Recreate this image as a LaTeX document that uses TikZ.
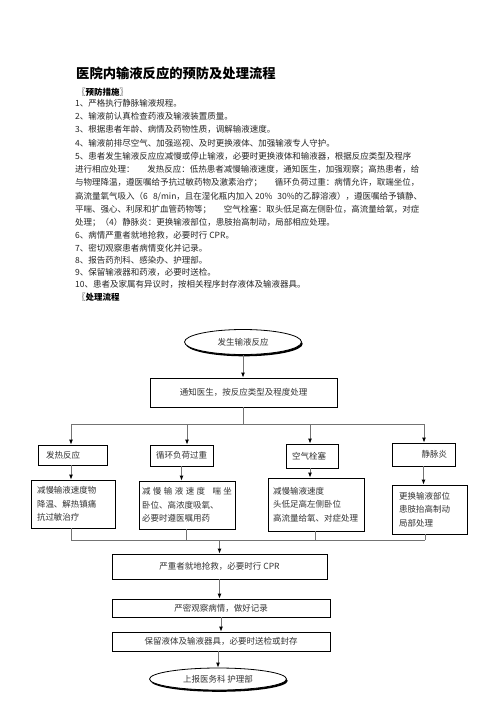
\documentclass[tikz,border=0pt]{standalone}
\usepackage{fontspec}
\setmainfont{Noto Sans CJK SC}
\usetikzlibrary{shapes.geometric,arrows.meta,shadows}
\newcommand{\justline}[1]{{\XeTeXlinebreaklocale "zh"\XeTeXlinebreakskip=0pt plus 2pt minus 0.6pt\makebox[347pt][s]{#1}}}
\tikzset{
 body/.style={anchor=base west, inner sep=0, font=\fontsize{8.5}{10}\selectfont, text=black!85},
 head/.style={anchor=base west, inner sep=0, font=\fontsize{8.5}{10}\selectfont\bfseries, text=black},
 box/.style={draw=black, line width=0.8pt, inner ysep=0, font=\fontsize{8.5}{13.5}\selectfont, text=black!80},
 ell/.style={ellipse, draw=black, fill=white, line width=0.8pt, inner sep=0,
   drop shadow={shadow xshift=1.2pt, shadow yshift=-1.8pt, fill=black, opacity=1},
   font=\fontsize{8.5}{10}\selectfont, text=black!80},
 conn/.style={draw=black!55, line width=0.9pt},
 arr/.style={conn, -{Latex[length=5pt,width=4pt,color=black]}},
}
\begin{document}
\begin{tikzpicture}[x=1pt,y=-1pt]
\useasboundingbox[fill=white] (0,0) rectangle (496,702);
% title and text
\node[anchor=base west, inner sep=0, font=\fontsize{13.3}{15}\selectfont\bfseries] (title) at (76,78) {医院内输液反应的预防及处理流程};
\node[head] (h1) at (77,95) {〖预防措施〗};
\node[body] (t1) at (75,106.5) {1、严格执行静脉输液规程。};
\node[body] (t2) at (75,119.7) {2、输液前认真检查药液及输液装置质量。};
\node[body] (t3) at (75,132.9) {3、根据患者年龄、病情及药物性质，调解输液速度。};
\node[body] (t4) at (75,146.2) {4、输液前排尽空气、加强巡视、及时更换液体、加强输液专人守护。};
\node[body] (t5a) at (75,159.4) {\justline{5、患者发生输液反应应减慢或停止输液，必要时更换液体和输液器，根据反应类型及程序}};
\node[body] (t5b) at (75,172.6) {\justline{进行相应处理：\hspace{1.5em}发热反应：低热患者减慢输液速度，通知医生，加强观察；高热患者，给}};
\node[body] (t5c) at (75,185.8) {\justline{与物理降温，遵医嘱给予抗过敏药物及激素治疗；\hspace{1.5em}循环负荷过重：病情允许，取端坐位，}};
\node[body] (t5d) at (75,199.1) {\justline{高流量氧气吸入（6\hspace{0.6em}8/min，且在湿化瓶内加入 20\%\hspace{0.6em}30\%的乙醇溶液），遵医嘱给予镇静、}};
\node[body] (t5e) at (75,212.3) {\justline{平喘、强心、利尿和扩血管药物等；\hspace{1.5em}空气栓塞：取头低足高左侧卧位，高流量给氧，对症}};
\node[body] (t5f) at (75,225.5) {处理；（4）静脉炎：更换输液部位，患肢抬高制动，局部相应处理。};
\node[body] (t6) at (75,238.5) {6、病情严重者就地抢救，必要时行 CPR。};
\node[body] (t7) at (75,251) {7、密切观察患者病情变化并记录。};
\node[body] (t8) at (75,263) {8、报告药剂科、感染办、护理部。};
\node[body] (t9) at (75,275) {9、保留输液器和药液，必要时送检。};
\node[body] (t10) at (75,287) {10、患者及家属有异议时，按相关程序封存液体及输液器具。};
\node[head] (h2) at (77,300.5) {〖处理流程};
% flowchart
\node[ell, minimum width=117, minimum height=25] (e1) at (243,342) {发生输液反应};
\node[box, minimum width=187, minimum height=29] (n) at (243.5,392.5) {通知医生，按反应类型及程度处理};
\node[box, inner xsep=8, text width=53, minimum height=20, align=left] (b1) at (72.5,455) {发热反应};
\node[box, inner xsep=6, text width=51, minimum height=21, align=left] (b2) at (181.5,455.5) {循环负荷过重};
\node[box, inner xsep=6, text width=40, minimum height=24, align=left] (b3) at (312,456) {空气栓塞};
\node[box, inner xsep=8, text width=47, minimum height=23, align=right] (b4) at (423.5,454.5) {静脉炎};
\node[box, inner xsep=6, text width=72, minimum height=48, align=left] (d1) at (73,504) {减慢输液速度物\\降温、解热镇痛\\抗过敏治疗};
\node[box, inner xsep=3, text width=90, minimum height=48, align=left] (d2) at (187,505) {\makebox[90pt][s]{减\hfil 慢\hfil 输\hfil 液\hfil 速\hfil 度\hfil\hfil\hfil 喘\hfil 坐}\\卧位、高浓度吸氧、\\必要时遵医嘱用药};
\node[box, inner xsep=5, text width=86, minimum height=53, align=left] (d3) at (316,504.5) {减慢输液速度\\头低足高左侧卧位\\高流量给氧、对症处理};
\node[box, inner xsep=7, text width=61, minimum height=49, align=left] (d4) at (429.5,509.5) {更换输液部位\\患肢抬高制动\\局部处理};
\node[box, minimum width=215, minimum height=25] (c1) at (219.5,566.5) {严重者就地抢救，必要时行 CPR};
\node[box, minimum width=218, minimum height=18] (c2) at (221,608) {严密观察病情，做好记录};
\node[box, minimum width=218, minimum height=19] (c3) at (221,641.5) {保留液体及输液器具，必要时送检或封存};
\node[ell, minimum width=137, minimum height=22] (e2) at (218,679) {上报医务科 护理部};
% connectors
\coordinate (h1l) at (71,424);
\coordinate (h1b) at (187,424);
\coordinate (h1c) at (310,424);
\coordinate (h1r) at (424,424);
\draw[arr] (e1.south) -- (e1.south |- n.north);
\draw[conn] (n.south) -- (n.south |- h1l);
\draw[conn] (h1l) -- (h1r);
\draw[arr] (h1l) -- (h1l |- b1.north);
\draw[arr] (h1b) -- (h1b |- b2.north);
\draw[arr] (h1c) -- (h1c |- b3.north);
\draw[arr] (h1r) -- (h1r |- b4.north);
\draw[arr] (b1.south -| h1l) -- (h1l |- d1.north);
\draw[arr] (b2.south) -- (b2.south |- d2.north);
\draw[arr] (b3.south -| h1c) -- (h1c |- d3.north);
\draw[arr] (b4.south) -- (b4.south |- d4.north);
\coordinate (h2l) at (71,540);
\coordinate (h2b) at (186,540);
\coordinate (h2c) at (315,540);
\coordinate (h2r) at (425,540);
\draw[conn] (d1.south -| h2l) -- (h2l);
\draw[conn] (d2.south -| h2b) -- (h2b);
\draw[conn] (d3.south -| h2c) -- (h2c);
\draw[conn] (d4.south -| h2r) -- (h2r);
\draw[conn] (h2l) -- (h2r);
\draw[arr] (c1.north |- h2l) -- (c1.north);
\draw[arr] (c1.south) -- (c1.south |- c2.north);
\draw[arr] (c2.south) -- (c2.south |- c3.north);
\draw[arr] (e2.north |- c3.south) -- (e2.north);
\end{tikzpicture}
\end{document}
